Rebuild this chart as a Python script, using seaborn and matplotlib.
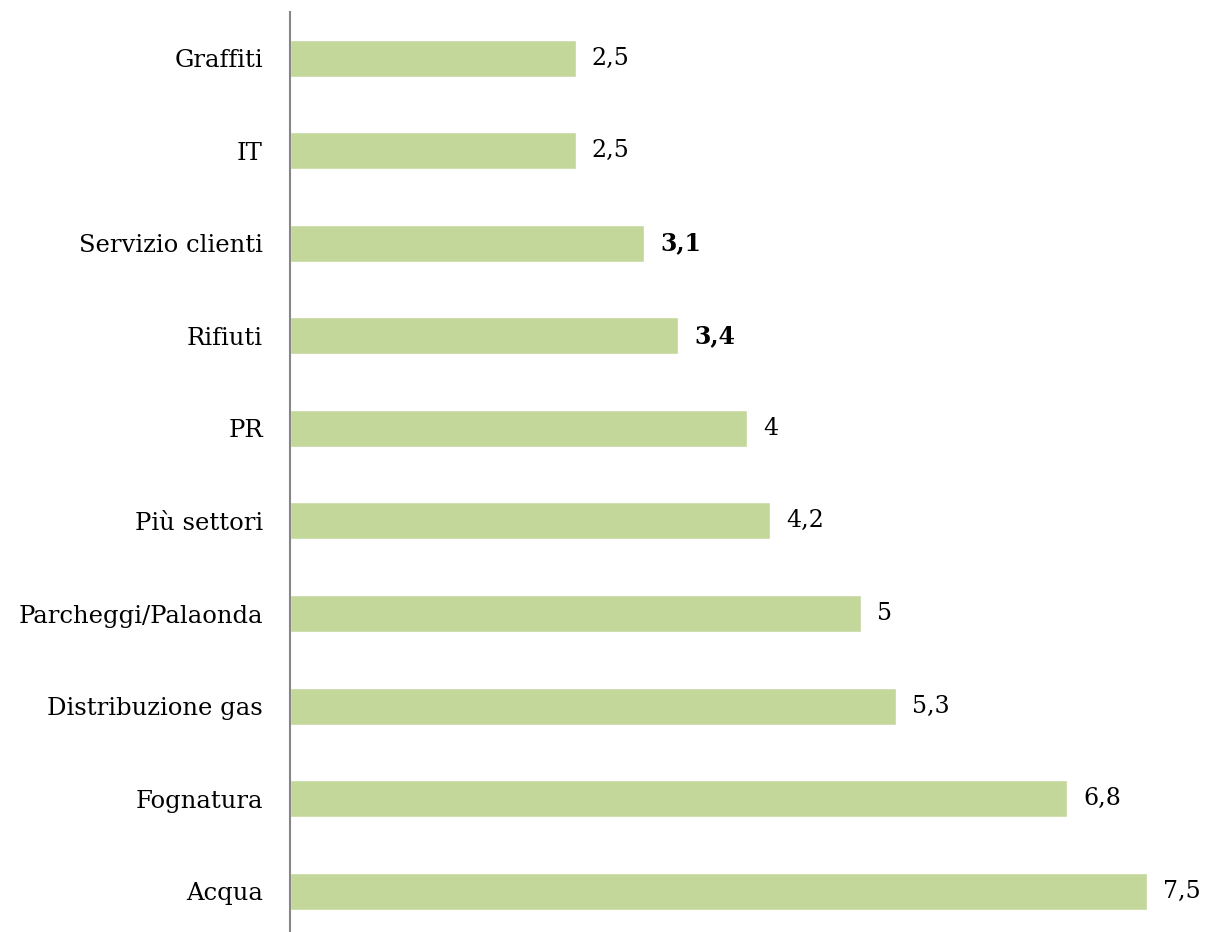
import matplotlib
matplotlib.use("Agg")
import matplotlib.pyplot as plt
import seaborn as sns
import pandas as pd

categories = ["Graffiti", "IT", "Servizio clienti", "Rifiuti", "PR", "Più settori",
              "Parcheggi/Palaonda", "Distribuzione gas", "Fognatura", "Acqua"]
values = [2.5, 2.5, 3.1, 3.4, 4, 4.2, 5, 5.3, 6.8, 7.5]
labels = ["2,5", "2,5", "3,1", "3,4", "4", "4,2", "5", "5,3", "6,8", "7,5"]
bold_labels = ["3,1", "3,4"]

sns.set_theme(style="white")
plt.rcParams['font.family'] = ['DejaVu Serif']

df = pd.DataFrame({"cat": categories, "val": values})
fig = plt.figure(figsize=(12.09, 9.32), dpi=100)
ax = fig.add_axes([290/1209, -0.006, (1204-290)/1209, 0.9934])
sns.barplot(data=df, x="val", y="cat", orient="h", color="#C4D79B", width=0.40,
            saturation=1, ax=ax, order=categories)
ax.set_xlim(0, 8)
ax.set_ylim(9.5, -0.5)
for i, (v, lab) in enumerate(zip(values, labels)):
    ax.text(v + 0.14, i, lab, va="center", ha="left", fontsize=17, color="black",
            fontweight="bold" if lab in bold_labels else "normal")
ax.set_xlabel("")
ax.set_ylabel("")
ax.set_xticks([])
ax.tick_params(axis="y", length=0, pad=19.5, labelsize=17.5, labelcolor="black")
for s in ["top", "right", "bottom"]:
    ax.spines[s].set_visible(False)
ax.spines["left"].set_color("#868686")
ax.spines["left"].set_linewidth(1.5)
fig.savefig("out.png", dpi=100)
